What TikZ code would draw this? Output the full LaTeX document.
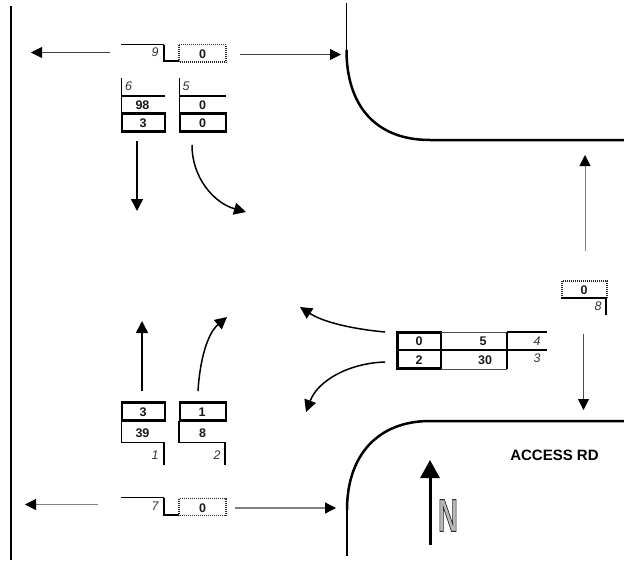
\documentclass[tikz,border=0pt]{standalone}
\usepackage{fontspec}
\setmainfont{Liberation Sans}
\usetikzlibrary{arrows.meta}
\tikzset{
 thinarrow/.style={line width=0.8pt,draw=black!75,-{Triangle[length=11pt,width=11pt,fill=black,color=black]}},
 grayarrow/.style={line width=1.3pt,draw=black!50,-{Triangle[length=11pt,width=11pt,fill=black,color=black]}},
 midarrow/.style={line width=1.5pt,-{Triangle[length=12pt,width=12pt]}},
 road/.style={line width=2.5pt},
 roadthin/.style={line width=1.6pt},
 thick box/.style={draw,line width=2.8pt,minimum width=0pt},
 hline/.style={line width=1.2pt},
 hthick/.style={line width=1.7pt},
 dotbox/.style={draw=black!85,dash pattern=on 1pt off 1pt,line width=1.1pt},
 num/.style={font=\fontsize{12.5}{14}\selectfont\bfseries,inner sep=0pt,text=black!90},
 idx/.style={font=\fontsize{12.5}{14}\selectfont\itshape,inner sep=0pt,text=black!80},
 title/.style={font=\fontsize{15}{16}\selectfont\bfseries,inner sep=0pt},
}
\begin{document}
\begin{tikzpicture}[x=1pt,y=-1pt]
\useasboundingbox (0,0) rectangle (624,560);
% left edge and roads
\coordinate (edgeT) at (11,6); \coordinate (edgeB) at (11,560);
\draw[line width=2pt] (edgeT) -- (edgeB);
\coordinate (r1a) at (346.5,3); \coordinate (r1b) at (346.5,50); \coordinate (r1c) at (430,140); \coordinate (r1d) at (624,140);
\draw[roadthin] (r1a) -- (r1b);
\draw[road] (r1b) .. controls (346.5,105) and (375,140) .. (r1c) -- (r1d);
\coordinate (r2a) at (624,421); \coordinate (r2b) at (430,421); \coordinate (r2c) at (347,510); \coordinate (r2d) at (347,556);
\draw[road] (r2a) -- (r2b) .. controls (378,421) and (347,455) .. (r2c);
\draw[roadthin] (r2c) -- (r2d);
% group 9
\node[num] (n9) at (202.5,54) {0};
\node[idx] (i9) at (155,52) {9};
\draw[dotbox] (179,44.5) rectangle (226,62);
\draw[hthick] (121,44.5) -- (164,44.5);
\draw[hline] (164,44.5) -- (164,61) -- (179,61);
\coordinate (a9l) at (110,52.5); \coordinate (a9lt) at (31,52.5);
\coordinate (a9r) at (240,54.5); \coordinate (a9rt) at (341,54.5);
\draw[thinarrow] (a9l) -- (a9lt);
\draw[thinarrow] (a9r) -- (a9rt);
% group 6
\draw[hline] (121.5,78) -- (121.5,113);
\draw[hthick] (121,96) -- (165,96);
\draw[thick box] (122,113.5) rectangle (165,131.5);
\node[idx] (i6) at (128.5,86) {6};
\node[num] (n98) at (142.5,105) {98};
\node[num] (n3a) at (143,123) {3};
% group 5
\draw[hline] (179.5,78) -- (179.5,113);
\draw[hthick] (179,96) -- (226,96);
\draw[thick box] (180,113.5) rectangle (226,131.5);
\node[idx] (i5) at (186,86) {5};
\node[num] (n0a) at (202.5,105) {0};
\node[num] (n0b) at (202.5,123) {0};
\coordinate (a6s) at (137,141); \coordinate (a6t) at (137,211);
\draw[midarrow] (a6s) -- (a6t);
\coordinate (a5s) at (192,145); \coordinate (a5t) at (246,212);
\draw[midarrow] (a5s) .. controls (192,178) and (214,203) .. (a5t);
% group 1/2
\draw[thick box] (122,402.5) rectangle (165,420.5);
\draw[thick box] (180,402.5) rectangle (226,420.5);
\draw[hline] (121.5,421) -- (121.5,442.5) -- (164,442.5) -- (164,465);
\draw[hline] (179,421) -- (179,442.5) -- (225,442.5) -- (225,465);
\node[num] (n3b) at (143,412) {3};
\node[num] (n1b) at (202,412) {1};
\node[num] (n39) at (142.5,433.5) {39};
\node[num] (n8b) at (202.5,433.5) {8};
\node[idx] (i1) at (155,455) {1};
\node[idx] (i2) at (217,455) {2};
\coordinate (a1s) at (142,391); \coordinate (a1t) at (142,321);
\draw[midarrow] (a1s) -- (a1t);
\coordinate (a2s) at (198,391); \coordinate (a2t) at (227,317);
\draw[midarrow] (a2s) .. controls (200,358) and (208,333) .. (a2t);
% group 7
\draw[hthick] (121,497.5) -- (164,497.5);
\draw[hline] (164,497.5) -- (164,515) -- (179,515);
\draw[dotbox] (179,498.5) rectangle (226,515.5);
\node[idx] (i7) at (155,506) {7};
\node[num] (n0c) at (202.5,508) {0};
\coordinate (a7l) at (98,504.5); \coordinate (a7lt) at (25,504.5);
\coordinate (a7r) at (235,508); \coordinate (a7rt) at (336,508);
\draw[thinarrow,draw=black!50] (a7l) -- (a7lt);
\draw[grayarrow] (a7r) -- (a7rt);
% east table
\draw[thick box] (397.5,332.5) rectangle (441,368.5);
\draw[hthick] (397,350) -- (547,350);
\draw[draw=black!70,line width=1pt] (441,332) -- (507,332) (441,369) -- (507,369);
\draw[hthick] (507,332) -- (547,332);
\draw[hline] (507,332) -- (507,369);
\node[num] (n0d) at (419,341.5) {0};
\node[num] (n2d) at (419,360) {2};
\node[num] (n5d) at (483,341.5) {5};
\node[num] (n30) at (485,360) {30};
\node[idx] (i4) at (537,341) {4};
\node[idx] (i3) at (537,358.5) {3};
\coordinate (a4s) at (385,332); \coordinate (a4t) at (300,307);
\draw[midarrow] (a4s) .. controls (352,329) and (323,322) .. (a4t);
\coordinate (a3s) at (385,362); \coordinate (a3t) at (306,412);
\draw[midarrow] (a3s) .. controls (350,363) and (318,380) .. (a3t);
% group 8
\draw[dotbox] (562,281) rectangle (607,298);
\draw[hthick] (561,298) -- (606.5,298);
\draw[hline] (606,298) -- (606,315);
\node[num] (n0e) at (584,290) {0};
\node[idx] (i8) at (598,306) {8};
\coordinate (a8u) at (585,251); \coordinate (a8ut) at (585,155);
\coordinate (a8d) at (583.5,334); \coordinate (a8dt) at (583.5,410);
\draw[thinarrow,draw=black!50] (a8u) -- (a8ut);
\draw[thinarrow,draw=black!70] (a8d) -- (a8dt);
% labels
\node[title] (access) at (554.5,455) {ACCESS RD};
\coordinate (ns) at (430,545); \coordinate (nt) at (430,460);
\draw[line width=3pt,-{Triangle[length=18pt,width=19pt]}] (ns) -- (nt);
\node[inner sep=0pt,font=\fontsize{46}{46}\selectfont\bfseries,xscale=0.6,transform shape] (north) at (448,515.5)
 {\special{pdf:code q 2 Tr 1 w 0.72 g 0.15 G}N\special{pdf:code Q}};
\end{tikzpicture}
\end{document}
